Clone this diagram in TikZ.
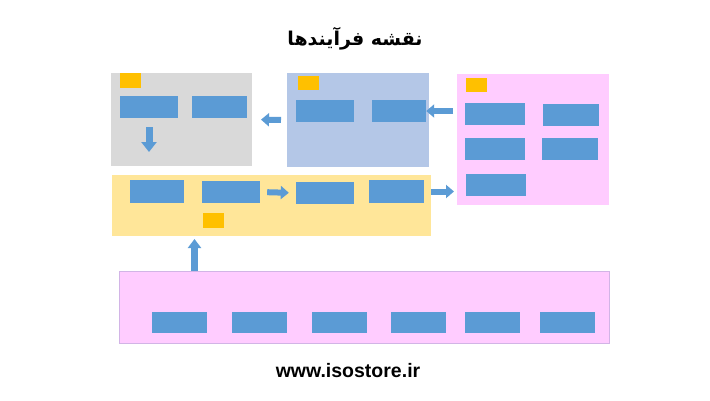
\documentclass[tikz,border=0pt]{standalone}
\usepackage{fontspec}
\setmainfont{Liberation Sans}
\newfontfamily\arabicfont[Script=Arabic]{DejaVu Sans}
\TeXXeTstate=1
\usetikzlibrary{arrows.meta}

\definecolor{greybg}{HTML}{D9D9D9}
\definecolor{bluebg}{HTML}{B4C7E7}
\definecolor{pinkbg}{HTML}{FFCCFF}
\definecolor{pinkedge}{HTML}{D2B4E6}
\definecolor{yellowbg}{HTML}{FFE699}
\definecolor{taskblue}{HTML}{5B9BD5}
\definecolor{tagorange}{HTML}{FFC000}

\tikzset{
  area/.style = {inner sep=0, outer sep=0},
  task/.style = {fill=taskblue, inner sep=0, minimum height=22pt},
  tag/.style = {fill=tagorange, inner sep=0, minimum width=21pt, minimum height=15pt},
  arr/.style = {draw=taskblue, line width=6pt, -{Triangle[length=8pt,width=13pt]}},
}

\begin{document}
\begin{tikzpicture}[x=1pt, y=-1pt]
    \useasboundingbox (0,0) rectangle (710,400);

    \node (title) at (355,39) {\arabicfont\bfseries\fontsize{19}{22}\selectfont\beginR نقشه فرآیندها\endR};
    \node (site) at (348,371) {\bfseries\fontsize{19.5}{22}\selectfont www.isostore.ir};

    % grey group
    \node[area, fill=greybg, minimum width=141pt, minimum height=93pt] (grey) at (181.5,119.5) {};
    \node[tag] (gtag) at (130.5,80.5) {};
    \node[task, minimum width=58pt] (g1) at (149,107) {};
    \node[task, minimum width=55pt] (g2) at (219.5,107) {};

    % blue group
    \node[area, fill=bluebg, minimum width=142pt, minimum height=94pt] (blue) at (358,120) {};
    \node[tag, minimum height=14pt] (btag) at (308.5,83) {};
    \node[task, minimum width=58pt] (b1) at (325,111) {};
    \node[task, minimum width=54pt] (b2) at (399,111) {};

    % pink group
    \node[area, fill=pinkbg, minimum width=152pt, minimum height=131pt] (pink) at (533,139.5) {};
    \node[tag, minimum height=14pt] (ptag) at (476.5,85) {};
    \node[task, minimum width=60pt] (p1) at (495,114) {};
    \node[task, minimum width=56pt] (p2) at (571,115) {};
    \node[task, minimum width=60pt] (p3) at (495,149) {};
    \node[task, minimum width=56pt] (p4) at (570,149) {};
    \node[task, minimum width=60pt] (p5) at (496,185) {};

    % yellow group
    \node[area, fill=yellowbg, minimum width=319pt, minimum height=61pt] (yellow) at (271.5,205.5) {};
    \node[task, minimum width=54pt, minimum height=23pt] (y1) at (157,191.5) {};
    \node[task, minimum width=58pt] (y2) at (231,192) {};
    \node[task, minimum width=58pt] (y3) at (325,193) {};
    \node[task, minimum width=55pt, minimum height=23pt] (y4) at (396.5,191.5) {};
    \node[tag] (ytag) at (213.5,220.5) {};

    % bottom row
    \node[area, fill=pinkbg, draw=pinkedge, line width=0.8pt, minimum width=490pt, minimum height=72pt] (base) at (364,307) {};
    \foreach \x [count=\i] in {179.5,259.5,339.5,418.5,492.5,567.5}
      \node[task, minimum width=55pt, minimum height=21pt] (r\i) at (\x,322.5) {};

    % arrows
    \coordinate (up) at (194.5,271);
    \draw[arr, shorten <=6pt, shorten >=9pt] (blue.west) -- (grey.east);
    \draw[arr, shorten <=4pt] (pink.west |- b2) -- (b2.east);
    \draw[arr, line width=7pt, -{Triangle[length=10pt,width=15pt]}, shorten <=9pt, shorten >=14pt] (g1.south) -- (g1.south |- grey.south);
    \draw[arr, shorten <=7pt, shorten >=7pt] (y2.east) -- (y3.west);
    \draw[arr, shorten >=3pt] (yellow.east |- y4) -- (pink.west |- y4);
    \draw[arr, line width=6.5pt, -{Triangle[length=9pt,width=13pt]}, shorten >=3pt] (up) -- (up |- yellow.south);
\end{tikzpicture}
\end{document}
